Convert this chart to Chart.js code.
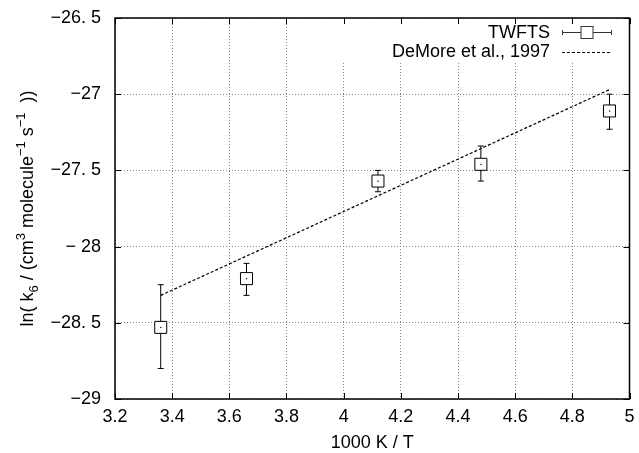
<!DOCTYPE html>
<html>
<head>
<meta charset="utf-8">
<script src="https://cdn.jsdelivr.net/npm/chart.js@4/dist/chart.umd.min.js"></script>
<style>
  html, body { margin: 0; padding: 0; background: #fff; }
  #wrap { width: 639px; height: 453px; }
</style>
</head>
<body>
<div id="wrap"><canvas id="chart" width="639" height="453"></canvas></div>
<script>
// data
const invT = [3.36, 3.66, 4.12, 4.48, 4.93];
const lnK = [-28.53, -28.21, -27.57, -27.46, -27.11];
const lnKLow = [-28.80, -28.32, -27.64, -27.57, -27.23];
const lnKHigh = [-28.25, -28.11, -27.50, -27.34, -27.00];

const demoreX = [3.36, 4.93];
const demoreY = [-28.32, -26.97];

const xTicks = [3.2, 3.4, 3.6, 3.8, 4.0, 4.2, 4.4, 4.6, 4.8, 5.0];
const xTickLabels = ['3.2', '3.4', '3.6', '3.8', '4', '4.2', '4.4', '4.6', '4.8', '5'];
const yTicks = [-29, -28.5, -28, -27.5, -27, -26.5];
const yTickLabels = ['\u221229', '\u221228. 5', '\u2212 28', '\u221227. 5', '\u221227', '\u221226. 5'];

const FONT = '"Liberation Sans", Arial, Helvetica, sans-serif';

const ctx = document.getElementById('chart').getContext('2d');

// gnuplot-like frame, inward ticks, error bars, key and axis titles
const gnuplotLook = {
  id: 'gnuplotLook',
  beforeDatasetsDraw(chart) {
    const c = chart.ctx;
    const a = chart.chartArea;
    const xs = chart.scales.x, ys = chart.scales.y;
    c.save();
    // key area hides the grid
    c.fillStyle = '#fff';
    c.fillRect(330, a.top + 1, a.right - 331, 43);

    c.strokeStyle = '#000';
    c.lineWidth = 1;
    c.beginPath();
    xTicks.forEach(v => {
      const px = Math.round(xs.getPixelForValue(v)) + 0.5;
      c.moveTo(px, a.bottom); c.lineTo(px, a.bottom - 6);
      c.moveTo(px, a.top); c.lineTo(px, a.top + 6);
    });
    yTicks.forEach(v => {
      const py = Math.round(ys.getPixelForValue(v)) + 0.5;
      c.moveTo(a.left, py); c.lineTo(a.left + 6, py);
      c.moveTo(a.right, py); c.lineTo(a.right - 6, py);
    });
    c.stroke();

    c.lineWidth = 1.5;
    c.strokeRect(a.left, a.top, a.right - a.left, a.bottom - a.top);

    // error bars
    c.lineWidth = 1;
    c.beginPath();
    invT.forEach((x, i) => {
      const px = xs.getPixelForValue(x);
      const pLo = ys.getPixelForValue(lnKLow[i]);
      const pHi = ys.getPixelForValue(lnKHigh[i]);
      c.moveTo(px, pLo); c.lineTo(px, pHi);
      c.moveTo(px - 3, pLo); c.lineTo(px + 3, pLo);
      c.moveTo(px - 3, pHi); c.lineTo(px + 3, pHi);
    });
    c.stroke();
    c.restore();
  },
  afterDatasetsDraw(chart) {
    const c = chart.ctx;
    const a = chart.chartArea;
    const xs = chart.scales.x, ys = chart.scales.y;
    c.save();
    c.fillStyle = '#000';
    invT.forEach((x, i) => {
      c.fillRect(xs.getPixelForValue(x) - 0.5, ys.getPixelForValue(lnK[i]) - 0.5, 1.2, 1.2);
    });

    // key
    c.font = '18px ' + FONT;
    c.textAlign = 'right';
    c.textBaseline = 'middle';
    c.fillText('TWFTS', 550, 33);
    c.fillText('DeMore et al., 1997', 550, 52);
    c.strokeStyle = '#333';
    c.lineWidth = 1;
    c.beginPath();
    c.moveTo(562, 32.5); c.lineTo(612, 32.5);
    c.moveTo(562.5, 30); c.lineTo(562.5, 35);
    c.moveTo(611.5, 30); c.lineTo(611.5, 35);
    c.stroke();
    c.fillStyle = '#fff';
    c.fillRect(581, 26.5, 12, 12);
    c.strokeRect(581, 26.5, 12, 12);
    c.strokeStyle = '#000';
    c.setLineDash([3, 2]);
    c.beginPath();
    c.moveTo(562, 52.5); c.lineTo(612, 52.5);
    c.stroke();
    c.setLineDash([]);

    // x title
    c.fillStyle = '#000';
    c.textAlign = 'center';
    c.fillText('1000 K / T', (a.left + a.right) / 2, 443);

    // y title with sub/superscripts
    const parts = [
      ['ln( k', 18, 0], ['6', 13, 5], [' / (cm', 18, 0], ['3', 13, -8],
      [' molecule', 18, 0], ['\u22121', 13, -8], [' s', 18, 0], ['\u22121', 13, -8], ['  ))', 18, 0]
    ];
    let total = 0;
    parts.forEach(p => { c.font = p[1] + 'px ' + FONT; total += c.measureText(p[0]).width; });
    c.translate(33, (a.top + a.bottom) / 2);
    c.rotate(-Math.PI / 2);
    c.textAlign = 'left';
    c.textBaseline = 'alphabetic';
    let pos = -total / 2;
    parts.forEach(p => {
      c.font = p[1] + 'px ' + FONT;
      c.fillText(p[0], pos, p[2]);
      pos += c.measureText(p[0]).width;
    });
    c.restore();
  }
};

const chart = new Chart(ctx, {
  type: 'scatter',
  data: {
    datasets: [
      {
        label: 'TWFTS',
        data: invT.map((x, i) => ({ x: x, y: lnK[i] })),
        pointStyle: 'rect',
        pointRadius: 8.5,
        borderColor: '#000',
        backgroundColor: '#fff',
        borderWidth: 1
      },
      {
        label: 'DeMore et al., 1997',
        type: 'line',
        data: demoreX.map((x, i) => ({ x: x, y: demoreY[i] })),
        showLine: true,
        pointRadius: 0,
        borderColor: '#000',
        borderWidth: 1.2,
        borderDash: [3, 2],
        fill: false
      }
    ]
  },
  options: {
    responsive: false,
    animation: false,
    layout: { padding: { left: 0, right: 6, top: 18, bottom: 0 } },
    plugins: { legend: { display: false }, tooltip: { enabled: false } },
    scales: {
      x: {
        type: 'linear',
        min: 3.2,
        max: 5,
        afterBuildTicks: s => { s.ticks = xTicks.map(v => ({ value: v })); },
        afterFit: s => { s.height = 54; s.paddingLeft = 0; s.paddingRight = 0; },
        ticks: {
          padding: 7,
          color: '#000',
          font: { family: FONT, size: 18 },
          maxRotation: 0,
          callback: (v, i) => xTickLabels[i]
        },
        grid: { color: '#888', lineWidth: 1, drawTicks: false },
        border: { display: false, dash: [1, 2] }
      },
      y: {
        type: 'linear',
        min: -29,
        max: -26.5,
        afterBuildTicks: s => { s.ticks = yTicks.map(v => ({ value: v })); },
        afterFit: s => { s.width = 115; s.paddingTop = 0; s.paddingBottom = 0; },
        ticks: {
          padding: 14,
          color: '#000',
          font: { family: FONT, size: 18 },
          callback: (v, i) => yTickLabels[i]
        },
        grid: { color: '#888', lineWidth: 1, drawTicks: false },
        border: { display: false, dash: [1, 2] }
      }
    }
  },
  plugins: [gnuplotLook]
});
</script>
</body>
</html>
